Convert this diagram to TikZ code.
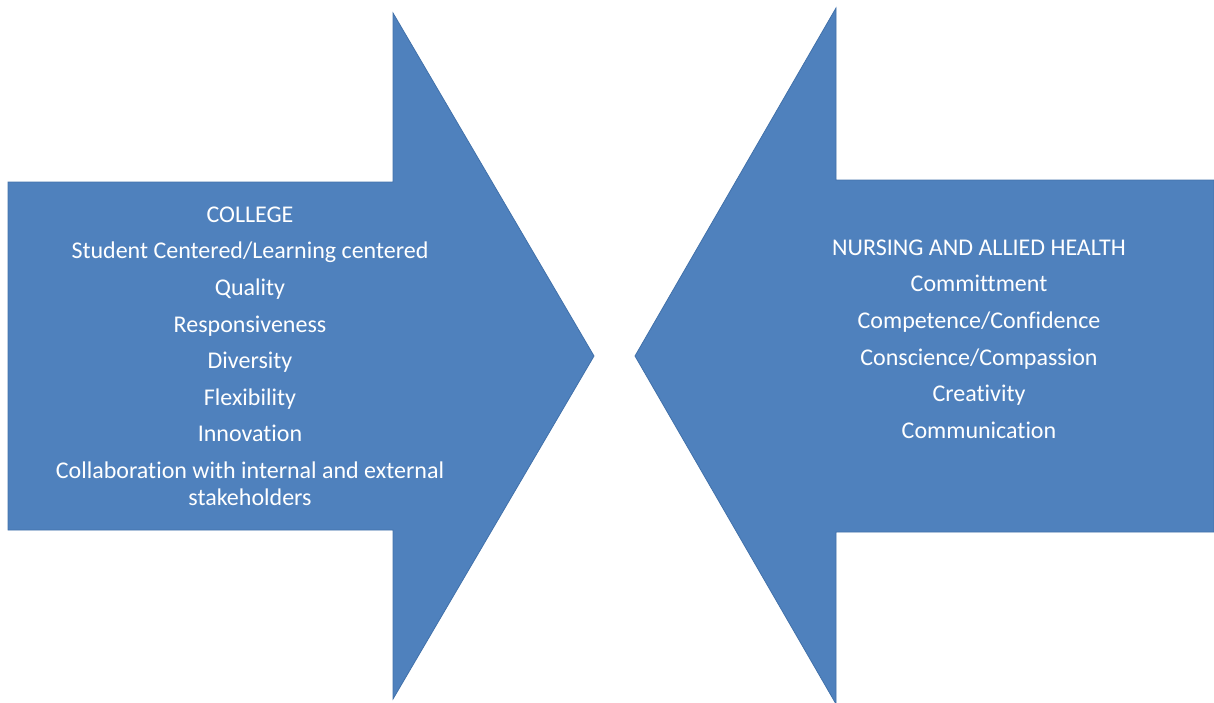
\documentclass[tikz,border=0pt]{standalone}
\usepackage{fontspec}
\setmainfont[Ligatures=NoCommon]{Carlito}
\usepackage{tikz}
\usetikzlibrary{positioning}
\definecolor{arrowblue}{RGB}{79, 129, 189}
\definecolor{arrowedge}{RGB}{65, 113, 170}
\tikzset{
    bigarrow/.style={
        fill=arrowblue,
        draw=arrowedge,
        line width=0.8pt
    },
    valuetext/.style={
        text=white,
        align=center,
        font=\fontsize{24}{27}\selectfont,
        inner sep=0pt
    }
}

\begin{document}
\begin{tikzpicture}[x=1pt, y=-1pt]

    % Frame
    \useasboundingbox (0,0) rectangle (1214,702);

    % Arrows
    \path[bigarrow] (8,182) -- (393,182) -- (393,13) -- (594,356) -- (393,699) -- (393,530) -- (8,530) -- cycle;
    \path[bigarrow] (1214,180) -- (836,180) -- (836,8) -- (635,356) -- (836,704) -- (836,532) -- (1214,532) -- cycle;

    % Values
    \node[valuetext, anchor=north] (college) at (250,206.5) {COLLEGE\\[9.6pt]
        Student Centered/Learning centered\\[9.6pt]
        Quality\\[9.6pt]
        Responsiveness\\[9.6pt]
        Diversity\\[9.6pt]
        Flexibility\\[9.6pt]
        Innovation\\[9.6pt]
        Collaboration with internal and external\\
        stakeholders};

    \node[valuetext, anchor=north] (nursing) at (979,239.5) {NURSING AND ALLIED HEALTH\\[9.6pt]
        Committment\\[9.6pt]
        Competence/Confidence\\[9.6pt]
        Conscience/Compassion\\[9.6pt]
        Creativity\\[9.6pt]
        Communication};

\end{tikzpicture}
\end{document}
